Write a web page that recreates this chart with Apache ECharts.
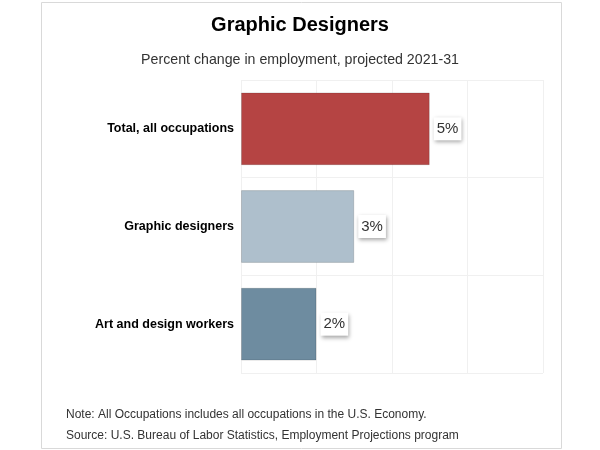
<!DOCTYPE html>
<html><head><meta charset="utf-8">
<script src="https://cdn.jsdelivr.net/npm/echarts@6/dist/echarts.min.js"></script>
<style>html,body{margin:0;padding:0;background:#fff;}#c{width:600px;height:450px;}</style>
</head><body><div id="c"></div>
<script>
var categories = ["Total, all occupations", "Graphic designers", "Art and design workers"];
var values = [5, 3, 2];
var barColors = ["#B54443", "#AEBFCC", "#6E8CA0"];
var titleText = "Graphic Designers";
var subtitleText = "Percent change in employment, projected 2021-31";
var noteLines = ["Note: All Occupations includes all occupations in the U.S. Economy.", "Source: U.S. Bureau of Labor Statistics, Employment Projections program"];

var chart = echarts.init(document.getElementById('c'), null, {renderer: 'canvas'});
chart.setOption({
  animation: false,
  graphic: [
    {type: 'rect', shape: {x: 41.5, y: 2.5, width: 520, height: 446}, style: {fill: 'none', stroke: '#d9d9d9', lineWidth: 1}},
    {type: 'text', left: 66, top: 404, style: {text: noteLines.join('\n'), font: '12px "Liberation Sans", Arial, sans-serif', fill: '#333', lineHeight: 21}}
  ],
  title: [
    {text: titleText, left: 'center', top: 10, textStyle: {fontFamily: 'Liberation Sans, Arial', fontWeight: 'bold', fontSize: 20, color: '#000'}},
    {text: subtitleText, left: 'center', top: 48, textStyle: {fontFamily: '"Liberation Sans", Arial, sans-serif', fontWeight: 'normal', fontSize: 14.2, color: '#333'}}
  ],
  grid: {left: 241, right: 57, top: 80, bottom: 77, containLabel: false},
  xAxis: {
    type: 'value', min: 0, max: 8, interval: 2,
    axisLabel: {show: false}, axisLine: {show: false}, axisTick: {show: false},
    splitLine: {show: true, lineStyle: {color: '#f0f0f0', width: 1}}
  },
  yAxis: {
    type: 'category', data: categories, inverse: true,
    axisLine: {show: false}, axisTick: {show: false},
    axisLabel: {fontFamily: 'Liberation Sans, Arial', fontWeight: 'bold', fontSize: 12.5, color: '#000', margin: 7},
    splitLine: {show: true, lineStyle: {color: '#f0f0f0', width: 1}}
  },
  series: [{
    type: 'bar',
    data: values.map(function(v, i){ return {value: v, itemStyle: {color: barColors[i], borderColor: 'rgba(0,0,0,0.15)', borderWidth: 1}}; }),
    barCategoryGap: '25.5%',
    label: {
      show: true, position: 'right', distance: 4,
      formatter: '{c}%',
      fontFamily: '"Liberation Sans", Arial, sans-serif', fontSize: 15, color: '#333',
      backgroundColor: '#fff', padding: [4, 3, 4, 3],
      shadowColor: 'rgba(0,0,0,0.35)', shadowBlur: 4, shadowOffsetX: 1, shadowOffsetY: 2
    }
  }]
});
</script></body></html>
